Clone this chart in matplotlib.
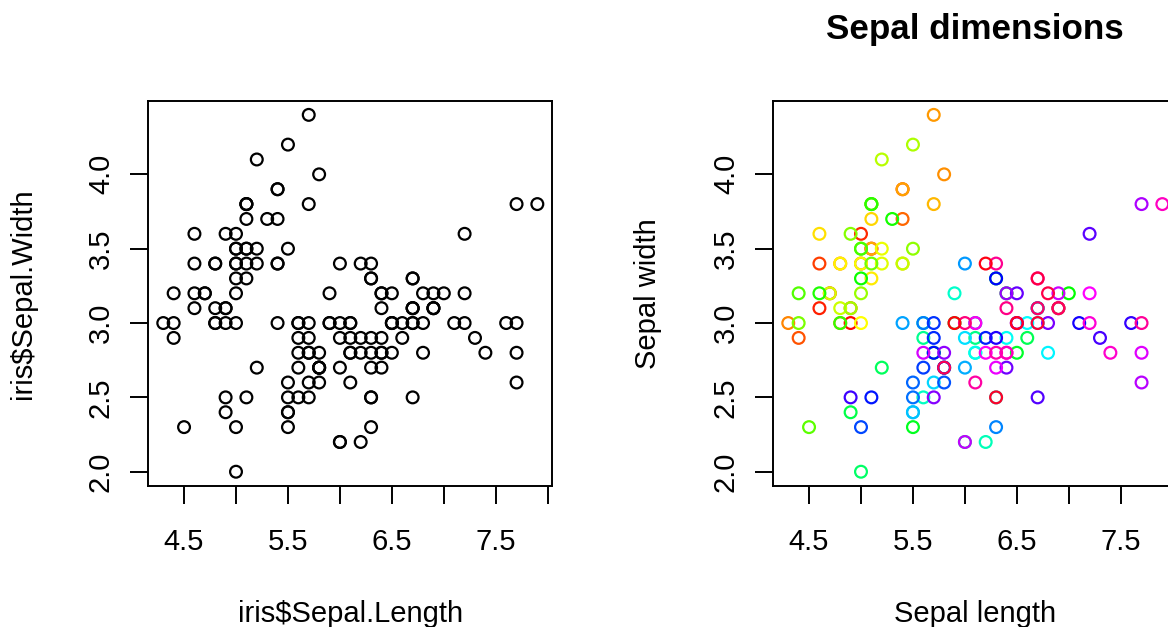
import numpy as np
import matplotlib
matplotlib.use("Agg")
import matplotlib.pyplot as plt
from matplotlib.colors import hsv_to_rgb

plt.rcParams['font.family'] = ['Liberation Sans', 'DejaVu Sans']

# iris$Sepal.Length and iris$Sepal.Width (150 rows, in dataset order)
sepal_length = [
    5.1, 4.9, 4.7, 4.6, 5.0, 5.4, 4.6, 5.0, 4.4, 4.9, 5.4, 4.8, 4.8, 4.3, 5.8,
    5.7, 5.4, 5.1, 5.7, 5.1, 5.4, 5.1, 4.6, 5.1, 4.8, 5.0, 5.0, 5.2, 5.2, 4.7,
    4.8, 5.4, 5.2, 5.5, 4.9, 5.0, 5.5, 4.9, 4.4, 5.1, 5.0, 4.5, 4.4, 5.0, 5.1,
    4.8, 5.1, 4.6, 5.3, 5.0,
    7.0, 6.4, 6.9, 5.5, 6.5, 5.7, 6.3, 4.9, 6.6, 5.2, 5.0, 5.9, 6.0, 6.1, 5.6,
    6.7, 5.6, 5.8, 6.2, 5.6, 5.9, 6.1, 6.3, 6.1, 6.4, 6.6, 6.8, 6.7, 6.0, 5.7,
    5.5, 5.5, 5.8, 6.0, 5.4, 6.0, 6.7, 6.3, 5.6, 5.5, 5.5, 6.1, 5.8, 5.0, 5.6,
    5.7, 5.7, 6.2, 5.1, 5.7,
    6.3, 5.8, 7.1, 6.3, 6.5, 7.6, 4.9, 7.3, 6.7, 7.2, 6.5, 6.4, 6.8, 5.7, 5.8,
    6.4, 6.5, 7.7, 7.7, 6.0, 6.9, 5.6, 7.7, 6.3, 6.7, 7.2, 6.2, 6.1, 6.4, 7.2,
    7.4, 7.9, 6.4, 6.3, 6.1, 7.7, 6.3, 6.4, 6.0, 6.9, 6.7, 6.9, 5.8, 6.8, 6.7,
    6.7, 6.3, 6.5, 6.2, 5.9,
]
sepal_width = [
    3.5, 3.0, 3.2, 3.1, 3.6, 3.9, 3.4, 3.4, 2.9, 3.1, 3.7, 3.4, 3.0, 3.0, 4.0,
    4.4, 3.9, 3.5, 3.8, 3.8, 3.4, 3.7, 3.6, 3.3, 3.4, 3.0, 3.4, 3.5, 3.4, 3.2,
    3.1, 3.4, 4.1, 4.2, 3.1, 3.2, 3.5, 3.6, 3.0, 3.4, 3.5, 2.3, 3.2, 3.5, 3.8,
    3.0, 3.8, 3.2, 3.7, 3.3,
    3.2, 3.2, 3.1, 2.3, 2.8, 2.8, 3.3, 2.4, 2.9, 2.7, 2.0, 3.0, 2.2, 2.9, 2.9,
    3.1, 3.0, 2.7, 2.2, 2.5, 3.2, 2.8, 2.5, 2.8, 2.9, 3.0, 2.8, 3.0, 2.9, 2.6,
    2.4, 2.4, 2.7, 2.7, 3.0, 3.4, 3.1, 2.3, 3.0, 2.5, 2.6, 3.0, 2.6, 2.3, 2.7,
    3.0, 2.9, 2.9, 2.5, 2.8,
    3.3, 2.7, 3.0, 2.9, 3.0, 3.0, 2.5, 2.9, 2.5, 3.6, 3.2, 2.7, 3.0, 2.5, 2.8,
    3.2, 3.0, 3.8, 2.6, 2.2, 3.2, 2.8, 2.8, 2.7, 3.3, 3.2, 2.8, 3.0, 2.8, 3.0,
    2.8, 3.8, 2.8, 2.8, 2.6, 3.0, 3.4, 3.1, 3.0, 3.1, 3.1, 3.1, 2.7, 3.2, 3.3,
    3.0, 2.5, 3.0, 3.4, 3.0,
]

x_ticks = [4.5, 5.0, 5.5, 6.0, 6.5, 7.0, 7.5, 8.0]
x_tick_labels = ["4.5", "", "5.5", "", "6.5", "", "7.5", ""]
y_ticks = [2.0, 2.5, 3.0, 3.5, 4.0]
y_tick_labels = ["2.0", "2.5", "3.0", "3.5", "4.0"]

# R's rainbow(150)
n = len(sepal_length)
rainbow = hsv_to_rgb(np.column_stack([np.arange(n) / n, np.ones(n), np.ones(n)]))

FS = 21
fig = plt.figure(figsize=(11.68, 6.27), dpi=100)
ax1 = fig.add_axes([148.3 / 1168, 1 - 486 / 627, 404 / 1168, 385.4 / 627])
ax2 = fig.add_axes([773.3 / 1168, 1 - 486 / 627, 404 / 1168, 385.4 / 627])


def r_style(ax, xlabel, ylabel):
    xr = max(sepal_length) - min(sepal_length)
    yr = max(sepal_width) - min(sepal_width)
    ax.set_xlim(min(sepal_length) - 0.04 * xr, max(sepal_length) + 0.04 * xr)
    ax.set_ylim(min(sepal_width) - 0.04 * yr, max(sepal_width) + 0.04 * yr)
    ax.set_xticks(x_ticks)
    ax.set_xticklabels(x_tick_labels)
    ax.set_yticks(y_ticks)
    ax.set_yticklabels(y_tick_labels, rotation=90, va='center')
    ax.tick_params(axis='both', direction='out', length=13, width=1.4,
                   labelsize=FS, color='black')
    ax.tick_params(axis='x', pad=17)
    ax.tick_params(axis='y', pad=11)
    for s in ax.spines.values():
        s.set_linewidth(1.4)
    ax.text(0.5, -0.331, xlabel, transform=ax.transAxes, ha='center',
            va='center', fontsize=FS)
    ax.text(-0.309, 0.5, ylabel, transform=ax.transAxes, ha='center',
            va='center', rotation=90, fontsize=FS)


ax1.scatter(sepal_length, sepal_width, s=72, facecolors='none',
            edgecolors='black', linewidths=1.6, clip_on=False, zorder=3)
r_style(ax1, "iris$Sepal.Length", "iris$Sepal.Width")

ax2.scatter(sepal_length, sepal_width, s=72, facecolors='none',
            edgecolors=rainbow, linewidths=1.6, clip_on=False, zorder=3)
r_style(ax2, "Sepal length", "Sepal width")
ax2.text(0.5, 1 + (100.6 - 29) / 385.4, "Sepal dimensions", transform=ax2.transAxes,
         ha='center', va='center', fontsize=FS * 1.2, fontweight='bold')

fig.savefig("out.png", dpi=100)
